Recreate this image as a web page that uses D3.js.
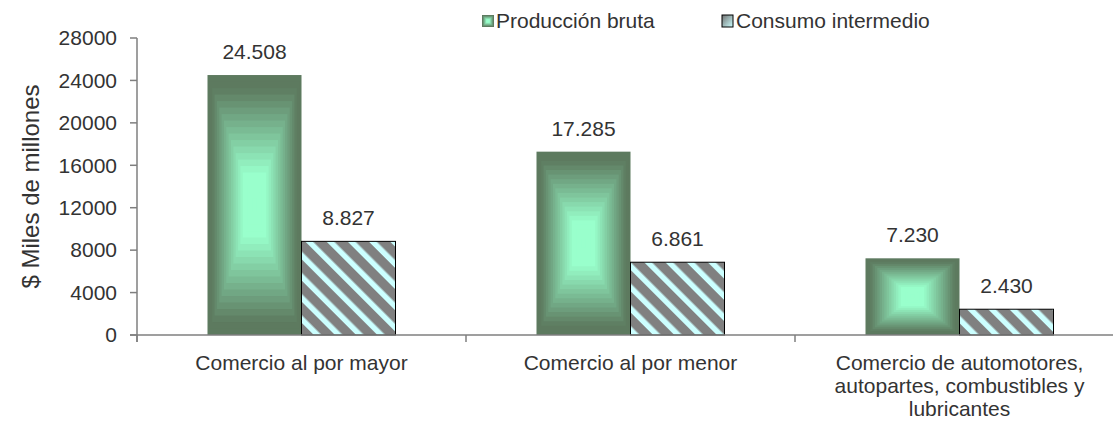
<!DOCTYPE html>
<html>
<head>
<meta charset="utf-8">
<script src="https://cdn.jsdelivr.net/npm/d3@7"></script>
<style>
  body { margin: 0; background: #fff; }
  svg text { font-family: "Liberation Sans", Arial, sans-serif; fill: #333; }
</style>
</head>
<body>
<svg id="chart" width="1113" height="423"></svg>
<script>
// data
var categories = [
    ["Comercio al por mayor"],
    ["Comercio al por menor"],
    ["Comercio de automotores,", "autopartes, combustibles y", "lubricantes"]
];
var series = ["Producción bruta", "Consumo intermedio"];
var produccion = [24508, 17285, 7230];
var consumo = [8827, 6861, 2430];
var yTicks = [0, 4000, 8000, 12000, 16000, 20000, 24000, 28000];

var svg = d3.select("#chart");
var plotLeft = 137, plotTop = 38, plotBottom = 335, step = 329;
var fontSize = 21;
var fmt = d3.formatLocale({decimal: ",", thousands: ".", grouping: [3]}).format(",");

var y = d3.scaleLinear().domain([0, 28000]).range([plotBottom, plotTop]);
var x0 = d3.scaleBand().domain(d3.range(categories.length)).range([plotLeft, plotLeft + step * categories.length]);
var x1 = d3.scaleBand().domain(series).range([0, x0.bandwidth()]).paddingOuter(0.75);

var defs = svg.append("defs");
var pat = defs.append("pattern")
    .attr("id", "stripes")
    .attr("patternUnits", "userSpaceOnUse")
    .attr("width", 15).attr("height", 15)
    .attr("patternTransform", "rotate(-45)");
pat.append("rect").attr("width", 15).attr("height", 15).attr("fill", "#808080");
pat.append("rect").attr("width", 5.5).attr("height", 15).attr("fill", "#ccffff");

var lg = defs.append("linearGradient").attr("id", "legGrad")
    .attr("x1", 0).attr("y1", 0).attr("x2", 1).attr("y2", 1);
lg.append("stop").attr("offset", "0%").attr("stop-color", "#707070");
lg.append("stop").attr("offset", "100%").attr("stop-color", "#ccffff");

var dark = "#5d7a5f", light = "#99ffcc";
var colorAt = d3.interpolateRgb(dark, light);
var steps = 20;

// rectangular "from center" gradient as nested rects
function gradientBox(g, bx, by, bw, bh) {
    for (var k = 0; k < steps; k++) {
        var t = k / steps;
        var f = Math.max(0, Math.min(1, (k / (steps - 1) - 0.08) / 0.7));
        g.append("rect")
            .attr("x", bx + t * bw / 2)
            .attr("y", by + t * bh / 2)
            .attr("width", bw * (1 - t))
            .attr("height", bh * (1 - t))
            .attr("fill", colorAt(f));
    }
}

// y axis
var axisG = svg.append("g");
axisG.append("line")
    .attr("x1", plotLeft).attr("x2", plotLeft)
    .attr("y1", plotTop).attr("y2", plotBottom + 7)
    .attr("stroke", "#7f7f7f").attr("stroke-width", 1.5);
yTicks.forEach(function(v) {
    axisG.append("line")
        .attr("x1", plotLeft - 7).attr("x2", plotLeft)
        .attr("y1", y(v)).attr("y2", y(v))
        .attr("stroke", "#7f7f7f").attr("stroke-width", 1.5);
    axisG.append("text")
        .attr("x", 117).attr("y", y(v))
        .attr("dy", "0.35em")
        .attr("text-anchor", "end")
        .attr("font-size", fontSize)
        .text(v);
});

svg.append("text")
    .attr("transform", "translate(39," + ((plotTop + plotBottom) / 2) + ") rotate(-90)")
    .attr("text-anchor", "middle")
    .attr("font-size", 24)
    .text("$ Miles de millones");

// bars
var barsG = svg.append("g");
categories.forEach(function(c, i) {
    var gx = x0(i);
    var xp = gx + x1(series[0]), xc = gx + x1(series[1]), bw = x1.bandwidth();
    gradientBox(barsG, xp, y(produccion[i]), bw, y(0) - y(produccion[i]));
    barsG.append("rect")
        .attr("x", xc).attr("y", y(consumo[i]))
        .attr("width", bw).attr("height", y(0) - y(consumo[i]))
        .attr("fill", "url(#stripes)")
        .attr("stroke", "#000").attr("stroke-width", 1);

    [[xp, produccion[i]], [xc, consumo[i]]].forEach(function(d) {
        barsG.append("text")
            .attr("x", d[0] + bw / 2).attr("y", y(d[1]) - 16)
            .attr("text-anchor", "middle")
            .attr("font-size", fontSize)
            .text(fmt(d[1]));
    });

    var lab = svg.append("text")
        .attr("text-anchor", "middle")
        .attr("font-size", fontSize);
    c.forEach(function(line, j) {
        lab.append("tspan")
            .attr("x", gx + x0.bandwidth() / 2)
            .attr("y", 370 + j * 23)
            .text(line);
    });
});

// x axis
svg.append("line")
    .attr("x1", plotLeft - 7).attr("x2", 1113)
    .attr("y1", plotBottom).attr("y2", plotBottom)
    .attr("stroke", "#7f7f7f").attr("stroke-width", 1.5);
d3.range(categories.length + 1).forEach(function(i) {
    var tx = plotLeft + step * i;
    svg.append("line")
        .attr("x1", tx).attr("x2", tx)
        .attr("y1", plotBottom).attr("y2", plotBottom + 7)
        .attr("stroke", "#7f7f7f").attr("stroke-width", 1.5);
});

// legend
var leg = svg.append("g");
var legX = [482, 722];
var m1 = leg.append("g");
gradientBox(m1, legX[0], 15, 12, 12);
leg.append("rect")
    .attr("x", legX[1]).attr("y", 15).attr("width", 11).attr("height", 12)
    .attr("fill", "url(#legGrad)")
    .attr("stroke", "#000").attr("stroke-width", 1);
series.forEach(function(s, i) {
    leg.append("text")
        .attr("x", legX[i] + 14).attr("y", 21)
        .attr("dy", "0.35em")
        .attr("font-size", fontSize)
        .text(s);
});
</script>
</body>
</html>
